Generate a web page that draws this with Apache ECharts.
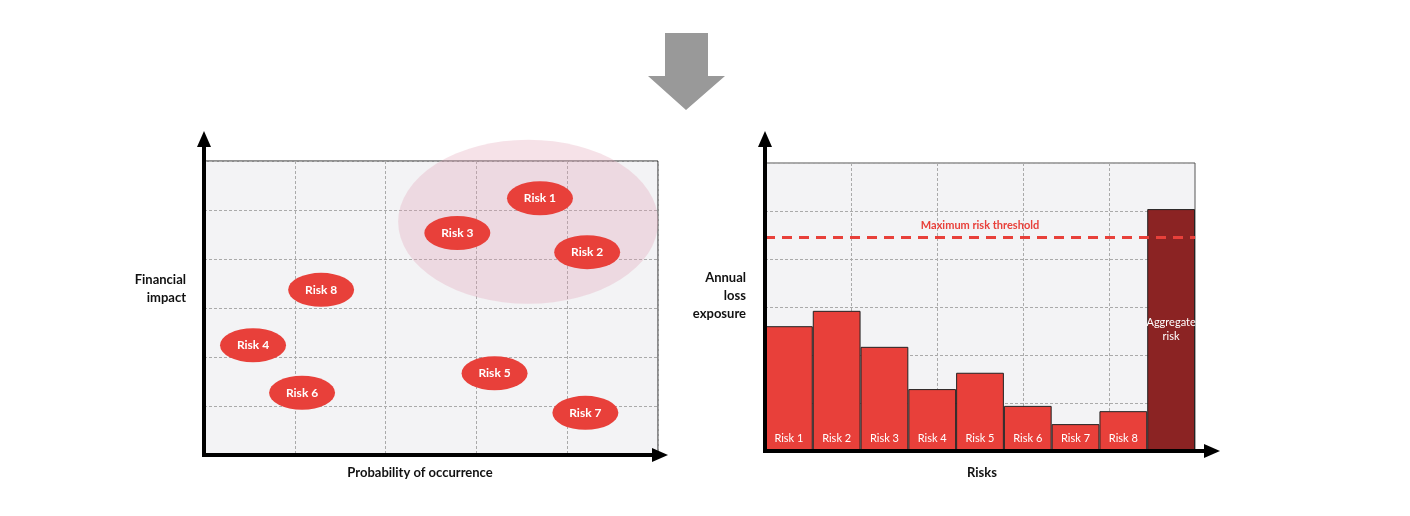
<!DOCTYPE html>
<html>
<head>
<meta charset="utf-8">
<script src="https://cdn.jsdelivr.net/npm/echarts@6/dist/echarts.min.js"></script>
<style>html,body{margin:0;background:#fff}#c{width:1410px;height:516px}</style>
</head>
<body>
<div id="c"></div>
<script>
// left chart: risk positions (probability, impact)
var riskNames = ['Risk 1', 'Risk 2', 'Risk 3', 'Risk 8', 'Risk 4', 'Risk 6', 'Risk 5', 'Risk 7'];
var probability = [3.70, 4.22, 2.79, 1.29, 0.54, 1.08, 3.20, 4.20];
var impact = [5.24, 4.14, 4.53, 3.37, 2.24, 1.27, 1.67, 0.86];
var zoneCenter = [3.57, 4.76];

// right chart: annual loss exposure
var barCats = ['Risk 1', 'Risk 2', 'Risk 3', 'Risk 4', 'Risk 5', 'Risk 6', 'Risk 7', 'Risk 8', 'Aggregate\nrisk'];
var barVals = [2.60, 2.92, 2.17, 1.29, 1.63, 0.94, 0.56, 0.83, 5.04];
var threshold = 4.46;

var font = 'Lato, "Open Sans", sans-serif';
var red = '#e8403a';
var dash = { color: '#aaaaaa', type: [3, 2], width: 1 };

var chart = echarts.init(document.getElementById('c'));

function valAxis(gridIndex, max) {
  return {
    type: 'value', gridIndex: gridIndex, min: 0, max: max, interval: 1,
    axisLine: { show: false }, axisTick: { show: false }, axisLabel: { show: false },
    splitLine: { show: true, lineStyle: dash }
  };
}

var scatterData = riskNames.map(function (n, i) { return { name: n, value: [probability[i], impact[i]] }; });

var barData = barVals.map(function (v, i) {
  var agg = i === barVals.length - 1;
  return {
    value: v,
    itemStyle: { color: agg ? '#8b2323' : red },
    label: agg ? { position: 'insideTop', distance: 106 } : {}
  };
});

// axis lines with arrows + texts
function axisArrows(x0, y0, x1, y1) {
  return [
    { type: 'line', z: 100, shape: { x1: x0, y1: y0 + 1, x2: x0, y2: y1 + 8 }, style: { stroke: '#000', lineWidth: 4 } },
    { type: 'line', z: 100, shape: { x1: x0 - 2, y1: y0, x2: x1 - 8, y2: y0 }, style: { stroke: '#000', lineWidth: 4 } },
    { type: 'polygon', z: 100, shape: { points: [[x0 - 7, y1 + 12], [x0 + 7, y1 + 12], [x0, y1 - 4]] }, style: { fill: '#000' } },
    { type: 'polygon', z: 100, shape: { points: [[x1 - 12, y0 - 7], [x1 - 12, y0 + 7], [x1 + 4, y0]] }, style: { fill: '#000' } }
  ];
}
function label(x, y, text, align) {
  return { type: 'text', x: x, y: y, style: { text: text, align: align, verticalAlign: 'middle', font: 'bold 13px ' + font, fill: '#111', lineHeight: 18 } };
}

var graphics = []
  .concat(axisArrows(204, 455, 664, 135))
  .concat(axisArrows(765, 451, 1216, 135))
  .concat([
    label(420, 473, 'Probability of occurrence', 'center'),
    label(186, 289, 'Financial\nimpact', 'right'),
    label(982, 473, 'Risks', 'center'),
    label(746, 296, 'Annual\nloss\nexposure', 'right'),
    { type: 'polygon', shape: { points: [[665, 33], [708, 33], [708, 76], [725, 76], [686, 110], [648, 76], [665, 76]] }, style: { fill: '#999' } }
  ]);

chart.setOption({
  animation: false,
  textStyle: { fontFamily: font },
  grid: [
    { left: 204, top: 161, width: 454, height: 294, show: true, backgroundColor: '#f3f3f5', borderColor: '#222', borderWidth: 1 },
    { left: 765, top: 163, width: 430, height: 288, show: true, backgroundColor: '#f3f3f5', borderColor: '#555', borderWidth: 1 }
  ],
  xAxis: [
    valAxis(0, 5),
    { type: 'category', gridIndex: 1, data: barCats, axisLine: { show: false }, axisTick: { show: false }, axisLabel: { show: false }, splitLine: { show: false } },
    valAxis(1, 5)
  ],
  yAxis: [valAxis(0, 6), valAxis(1, 6)],
  series: [
    {
      type: 'scatter', xAxisIndex: 0, yAxisIndex: 0, z: 1, silent: true, clip: false,
      symbol: 'circle', symbolSize: [260, 164],
      itemStyle: { color: 'rgba(226,160,180,0.3)', opacity: 1 },
      data: [zoneCenter]
    },
    {
      type: 'scatter', xAxisIndex: 0, yAxisIndex: 0, z: 3, clip: false,
      symbol: 'circle', symbolSize: [66, 34],
      itemStyle: { color: red, opacity: 1 },
      label: { show: true, position: 'inside', formatter: '{b}', color: '#fff', fontWeight: 'bold', fontSize: 12, fontFamily: font },
      data: scatterData
    },
    {
      type: 'bar', xAxisIndex: 1, yAxisIndex: 1, barCategoryGap: 0,
      itemStyle: { borderColor: '#222', borderWidth: 1 },
      label: { show: true, position: 'insideBottom', distance: 6, color: '#fff', fontSize: 11, fontFamily: font, lineHeight: 14, formatter: '{b}' },
      data: barData,
      markLine: {
        symbol: 'none', silent: true,
        lineStyle: { color: red, type: [10, 7], width: 3 },
        label: { show: true, position: 'middle', formatter: 'Maximum risk threshold', color: red, fontWeight: 'bold', fontSize: 11, fontFamily: font, distance: 6 },
        data: [{ yAxis: threshold }]
      }
    }
  ],
  graphic: graphics
});
</script>
</body>
</html>
